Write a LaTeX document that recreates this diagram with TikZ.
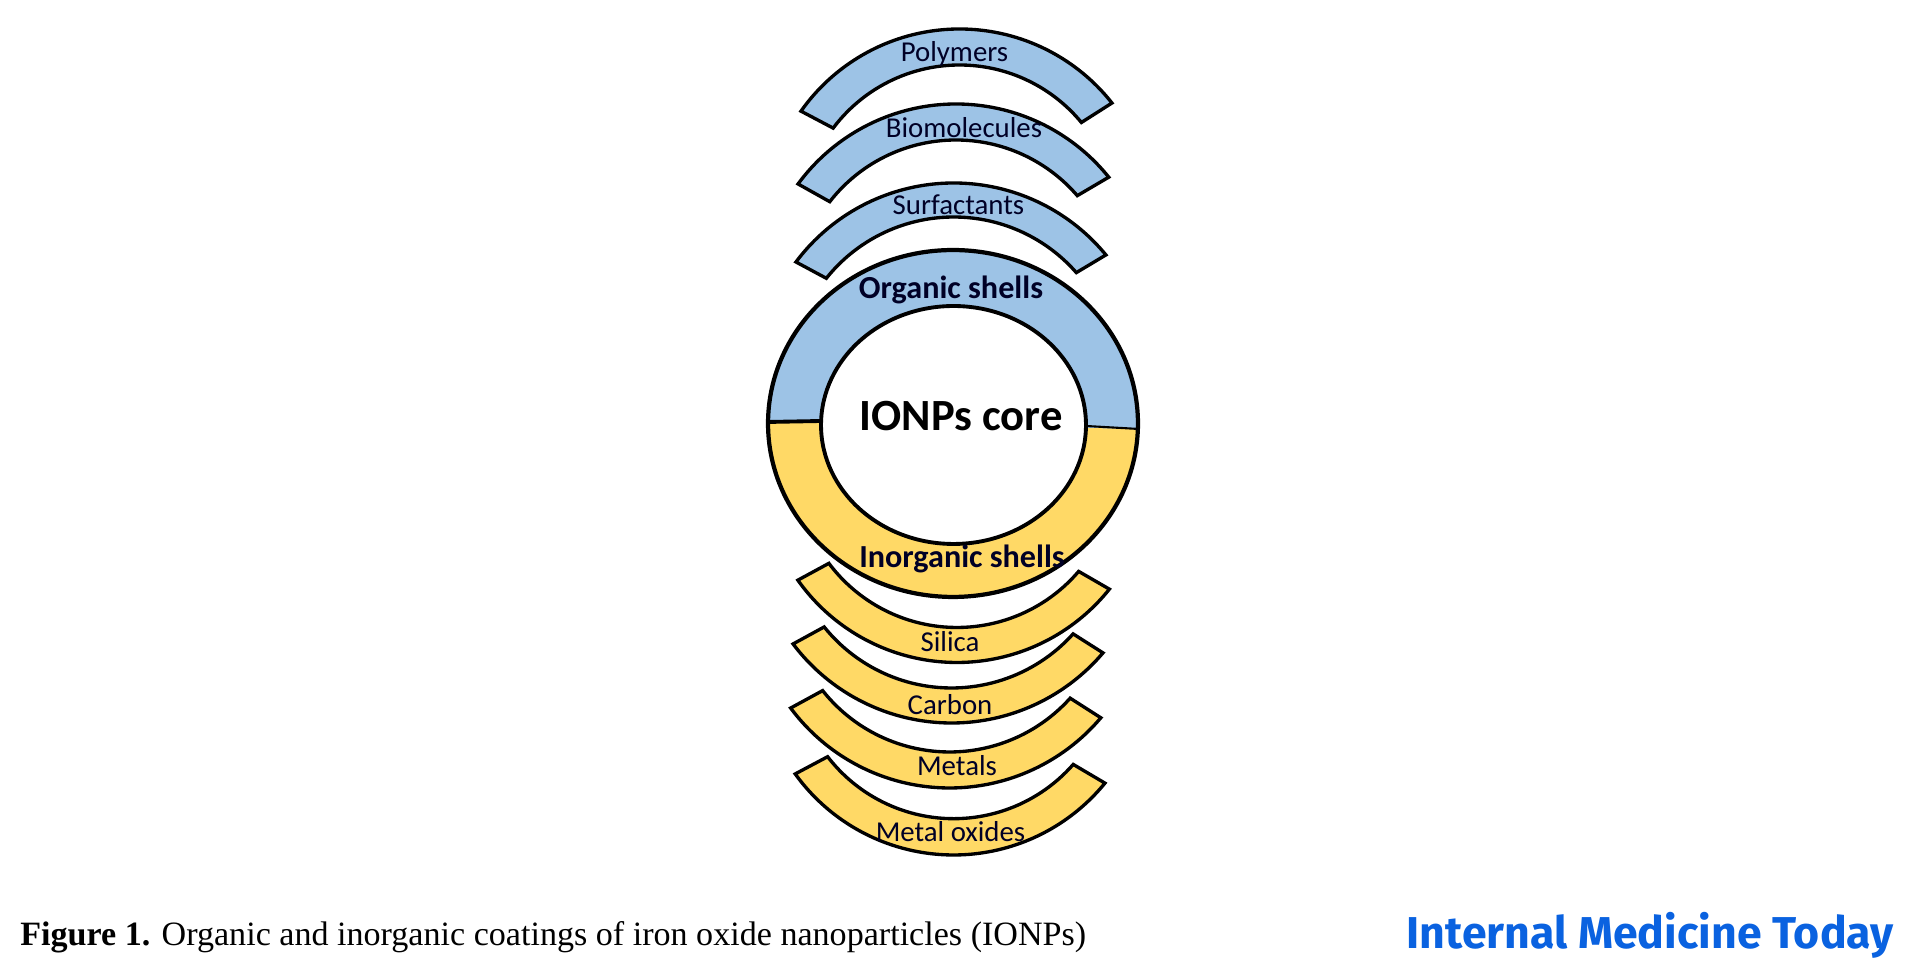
\documentclass[tikz,border=0pt]{standalone}
\usepackage{fontspec}
\setmainfont{Liberation Serif}
\newfontfamily\labelfont{Carlito}
\newfontfamily\logofont{Fira Sans}
\usetikzlibrary{shapes.geometric,calc}
\definecolor{organic}{HTML}{9DC3E6}
\definecolor{inorganic}{HTML}{FFD966}
\definecolor{logoblue}{HTML}{0A62E0}
\tikzset{
  band/.style={draw, line width=1.9pt, line join=miter},
  shelltext/.style={font=\labelfont\fontsize{16.4}{16.4}\selectfont, anchor=base, inner sep=0pt, text=black!85!blue},
  headtext/.style={font=\labelfont\bfseries\fontsize{18.3}{18.3}\selectfont, anchor=base, inner sep=0pt, text=black!85!blue},
}
% center x, center y, outer radius, inner radius, outer angles a/b, inner angles a/b, fill
\newcommand{\shellband}[9]{%
  \def\bandfill{#9}%
  \shellbandrest{#1}{#2}{#3}{#4}{#5}{#6}{#7}{#8}}
\newcommand{\shellbandrest}[8]{%
  \draw[band, fill=\bandfill] ($(#1,#2)+(#5:#3)$) arc[start angle=#5, end angle=#6, radius=#3]
    -- ($(#1,#2)+(#8:#4)$) arc[start angle=#8, end angle=#7, radius=#4] -- cycle;}
\begin{document}
\begin{tikzpicture}[x=0.02cm, y=0.02cm]
  \useasboundingbox (0,0) rectangle (1911,979);

  % Top: organic bands
  \shellband{959.5}{756}{194}{158}{38.2}{144.8}{39.5}{143.1}{organic}
  \shellband{956}{679}{196}{160}{38.8}{143.7}{40.7}{142.1}{organic}
  \shellband{953.7}{599}{197}{163}{39.4}{143.2}{41.2}{141.4}{organic}

  % Bottom: inorganic bands
  \shellband{957}{511.5}{195}{160}{215.3}{321.4}{216.8}{319.5}{inorganic}
  \shellband{951.6}{454.5}{198.5}{163.5}{217}{319.7}{218.8}{318}{inorganic}
  \shellband{949.6}{389}{198}{162}{216.6}{319.8}{218.4}{318.1}{inorganic}
  \shellband{953.6}{319.3}{195.3}{159}{215.8}{320.8}{217.6}{318.8}{inorganic}

  % Middle: ring and core
  \fill[organic] (953,555.5) ellipse[x radius=186, y radius=173.5];
  \fill[inorganic] (767,557) arc[start angle=179.5, end angle=358.2, x radius=186, y radius=173.5] -- cycle;
  \node[draw, ellipse, line width=2.4pt, inner sep=0pt, outer sep=0pt, minimum width=7.4cm, minimum height=6.94cm] (ring) at (953,555.5) {};
  \node[draw, ellipse, fill=white, line width=2.2pt, inner sep=0pt, outer sep=0pt, minimum width=5.3cm, minimum height=4.76cm] (core) at (953.5,554) {};
  \coordinate (ringleft) at (767,557);
  \coordinate (coreleft) at (821,558);
  \coordinate (coreright) at (1086,553);
  \coordinate (ringright) at (1139,550);
  \draw[line width=2.2pt] (ringleft) -- (coreleft);
  \draw[line width=1.2pt] (coreright) -- (ringright);

  % Labels
  \node[shelltext] (polymers) at (954.5,917) {Polymers};
  \node[shelltext] (biomolecules) at (964,841) {Biomolecules};
  \node[shelltext] (surfactants) at (958.5,764) {Surfactants};
  \node[headtext] (organictext) at (951,680) {Organic shells};
  \node[font=\labelfont\bfseries\fontsize{25.4}{25.4}\selectfont, anchor=base, inner sep=0pt] (coretext) at (961,548) {IONPs core};
  \node[headtext] (inorganictext) at (962,411) {Inorganic shells};
  \node[shelltext] (silica) at (950,327) {Silica};
  \node[shelltext] (carbon) at (950,264) {Carbon};
  \node[shelltext] (metals) at (957,203) {Metals};
  \node[shelltext] (oxides) at (950.5,137) {Metal oxides};

  % Bottom line
  \node[anchor=base west, inner sep=0pt, font=\fontsize{19.4}{19.4}\selectfont] (caption) at (20,33) {\textbf{Figure 1.} Organic and inorganic coatings of iron oxide nanoparticles (IONPs)};
  \node[anchor=base east, inner sep=0pt, text=logoblue, font=\logofont\bfseries\fontsize{25.4}{25.4}\selectfont] (logo) at (1894,30) {Internal Medicine Today};
\end{tikzpicture}
\end{document}
